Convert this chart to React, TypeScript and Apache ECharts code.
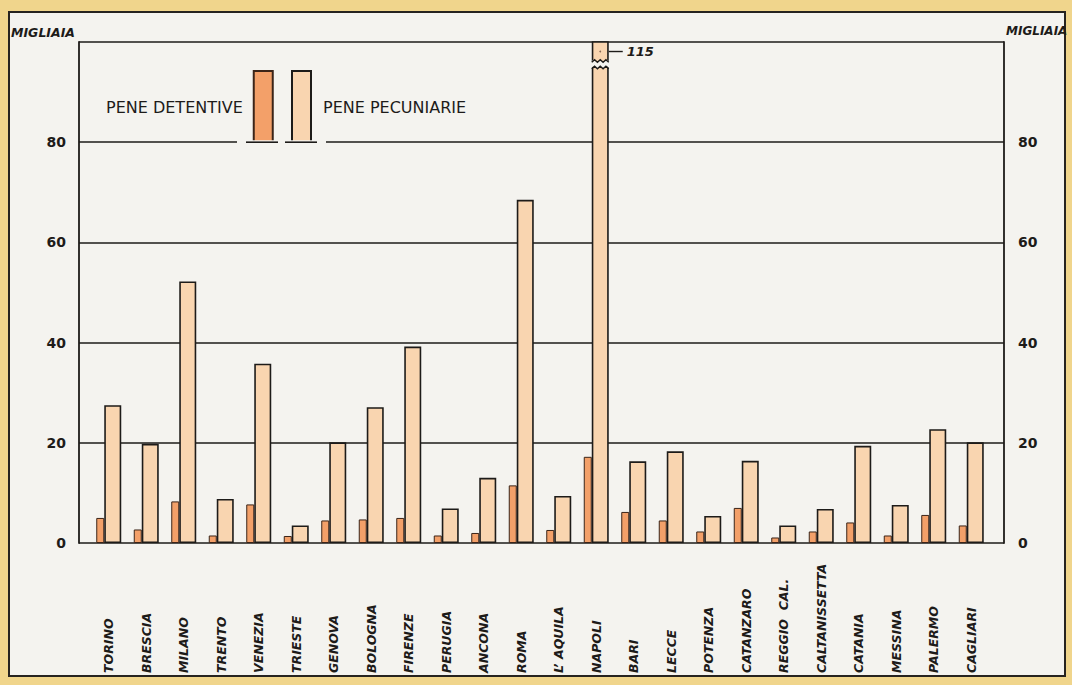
import React, { useEffect, useRef } from "react";
import * as echarts from "echarts";

const categories = [
  "TORINO", "BRESCIA", "MILANO", "TRENTO", "VENEZIA", "TRIESTE", "GENOVA", "BOLOGNA",
  "FIRENZE", "PERUGIA", "ANCONA", "ROMA", "L’ AQUILA", "NAPOLI", "BARI", "LECCE",
  "POTENZA", "CATANZARO", "REGGIO  CAL.", "CALTANISSETTA", "CATANIA", "MESSINA", "PALERMO", "CAGLIARI",
];
const peneDetentive = [5.0, 2.7, 8.3, 1.5, 7.7, 1.4, 4.5, 4.7, 5.0, 1.5, 2.0, 11.5, 2.6, 17.2, 6.2, 4.5, 2.3, 7.0, 1.1, 2.3, 4.1, 1.5, 5.6, 3.5];
const penePecuniarie = [27.5, 19.8, 52.2, 8.8, 35.8, 3.5, 20.1, 27.1, 39.2, 6.9, 13.0, 68.5, 9.4, 115, 16.3, 18.3, 5.4, 16.4, 3.5, 6.8, 19.4, 7.6, 22.7, 20.1];
const yTicks = [0, 20, 40, 60, 80, 100];
const seriesNames = ["PENE DETENTIVE", "PENE PECUNIARIE"];
const unitLabel = "MIGLIAIA";
const brokenCategory = "NAPOLI";

const INK = "#1d1b19";
const PAPER = "#f4f3ef";
const ORANGE = "#f3a069";
const PEACH = "#f9d5b0";
const FONT = "DejaVu Sans";

export default function App() {
  const ref = useRef<HTMLDivElement>(null);

  useEffect(() => {
    const chart = echarts.init(ref.current!, null, { renderer: "svg" });
    const yMax = yTicks[yTicks.length - 1];
    const yInterval = yTicks[1] - yTicks[0];

    const axisLabelStyle = {
      color: INK,
      fontFamily: FONT,
      fontWeight: "bold",
      fontSize: 14,
      formatter: (v: number) => (v === yMax ? "" : String(v)),
    };
    const nameStyle = {
      color: INK,
      fontFamily: FONT,
      fontWeight: "bold",
      fontStyle: "italic",
      fontSize: 12.5,
      verticalAlign: "bottom",
    };

    const option: any = {
      animation: false,
      backgroundColor: "transparent",
      textStyle: { fontFamily: FONT },
      grid: [
        { left: 79, right: 68, top: 42, bottom: 142, outerBoundsMode: "none", containLabel: false },
        { left: 90, right: 82, top: 42, bottom: 142, outerBoundsMode: "none", containLabel: false },
      ],
      legend: [
        {
          data: [seriesNames[0]],
          left: 106,
          top: 70,
          padding: 0,
          align: "right",
          icon: "rect",
          itemWidth: 19,
          itemHeight: 72,
          selectedMode: false,
          textStyle: { color: INK, fontFamily: FONT, fontSize: 16, padding: [0, 6, 0, 0] },
        },
        {
          data: [seriesNames[1]],
          left: 291,
          top: 70,
          padding: 0,
          align: "left",
          icon: "rect",
          itemWidth: 19,
          itemHeight: 72,
          selectedMode: false,
          textStyle: { color: INK, fontFamily: FONT, fontSize: 16, padding: [0, 0, 0, 7] },
        },
      ],
      xAxis: [
        { type: "category", gridIndex: 0, data: categories, show: false },
        {
          type: "category",
          gridIndex: 1,
          data: categories,
          axisLine: { show: false },
          axisTick: { show: false },
          splitLine: { show: false },
          axisLabel: {
            interval: 0,
            rotate: 90,
            align: "left",
            verticalAlign: "middle",
            margin: 130,
            color: INK,
            fontFamily: FONT,
            fontWeight: "bold",
            fontStyle: "italic",
            fontSize: 12.5,
          },
        },
      ],
      yAxis: [
        {
          type: "value",
          gridIndex: 0,
          position: "left",
          min: 0,
          max: yMax,
          interval: yInterval,
          name: unitLabel,
          nameLocation: "end",
          nameGap: 3,
          nameTextStyle: { ...nameStyle, align: "right", padding: [0, 4, 0, 0] },
          axisLine: { show: true, lineStyle: { color: INK, width: 1.8 } },
          axisTick: { show: false },
          splitLine: { show: true, lineStyle: { color: INK, width: 1.6 } },
          axisLabel: { ...axisLabelStyle, margin: 13 },
        },
        {
          type: "value",
          gridIndex: 0,
          position: "right",
          min: 0,
          max: yMax,
          interval: yInterval,
          name: unitLabel,
          nameLocation: "end",
          nameGap: 5,
          nameTextStyle: { ...nameStyle, fontSize: 12, align: "left", padding: [0, 0, 0, 2] },
          axisLine: { show: true, lineStyle: { color: INK, width: 1.8 } },
          axisTick: { show: false },
          splitLine: { show: false },
          axisLabel: { ...axisLabelStyle, margin: 14 },
        },
        { type: "value", gridIndex: 1, min: 0, max: yMax, interval: yInterval, show: false, splitLine: { show: false } },
      ],
      series: [
        {
          name: seriesNames[0],
          type: "bar",
          xAxisIndex: 1,
          yAxisIndex: 2,
          data: peneDetentive,
          barWidth: 8,
          barGap: "0%",
          clip: true,
          itemStyle: { color: ORANGE, borderColor: "#3b2418", borderWidth: 1 },
        },
        {
          name: seriesNames[1],
          type: "bar",
          xAxisIndex: 1,
          yAxisIndex: 2,
          data: penePecuniarie,
          barWidth: 17,
          barGap: "0%",
          clip: true,
          itemStyle: { color: PEACH, borderColor: INK, borderWidth: 1.6 },
        },
      ],
    };
    chart.setOption(option);

    // ---- overlays computed from the chart's own scales ----
    const graphics: any[] = [];
    const y80 = chart.convertToPixel({ yAxisIndex: 0 }, 80) as number;
    // gap in the 80 line around the legend, with small bases under the keys
    graphics.push({ type: "rect", z: 20, shape: { x: 237, y: y80 - 2, width: 89, height: 4 }, style: { fill: PAPER } });
    graphics.push({ type: "line", z: 21, shape: { x1: 246, y1: y80, x2: 278, y2: y80 }, style: { stroke: INK, lineWidth: 1.6 } });
    graphics.push({ type: "line", z: 21, shape: { x1: 285, y1: y80, x2: 317, y2: y80 }, style: { stroke: INK, lineWidth: 1.6 } });

    // broken bar for the value above the axis maximum
    const idx = categories.indexOf(brokenCategory);
    let bx0 = 0;
    let bx1 = 0;
    try {
      const lay = (chart as any).getModel().getSeriesByIndex(1).getData().getItemLayout(idx);
      bx0 = Math.min(lay.x, lay.x + lay.width);
      bx1 = Math.max(lay.x, lay.x + lay.width);
    } catch (e) {
      const cx = chart.convertToPixel({ xAxisIndex: 1 }, brokenCategory) as number;
      bx0 = cx - 4.5;
      bx1 = cx + 12.5;
    }
    const yBoxBottom = chart.convertToPixel({ yAxisIndex: 2 }, 96.2) as number;
    const yBarTop = chart.convertToPixel({ yAxisIndex: 2 }, 94.9) as number;
    const yBoxMid = chart.convertToPixel({ yAxisIndex: 2 }, 98.1) as number;
    const zig = (y: number, a: number, b: number) => {
      const pts: number[][] = [];
      const n = 6;
      for (let i = 0; i <= n; i++) {
        pts.push([a + ((b - a) * i) / n, y + (i % 2 === 0 ? 1.3 : -1.3)]);
      }
      return pts;
    };
    const topZ = zig(yBoxBottom, bx0 - 1.5, bx1 + 1.5);
    const botZ = zig(yBarTop, bx0 - 1.5, bx1 + 1.5);
    graphics.push({
      type: "polygon",
      z: 20,
      shape: { points: [...topZ, ...botZ.slice().reverse()] },
      style: { fill: PAPER },
    });
    graphics.push({ type: "polyline", z: 21, shape: { points: zig(yBoxBottom, bx0, bx1) }, style: { stroke: INK, lineWidth: 1.4, fill: null } });
    graphics.push({ type: "polyline", z: 21, shape: { points: zig(yBarTop, bx0, bx1) }, style: { stroke: INK, lineWidth: 1.4, fill: null } });
    graphics.push({ type: "circle", z: 21, shape: { cx: (bx0 + bx1) / 2, cy: yBoxMid, r: 0.9 }, style: { fill: "#8a6a55" } });
    graphics.push({ type: "line", z: 21, shape: { x1: bx1, y1: yBoxMid, x2: bx1 + 14, y2: yBoxMid }, style: { stroke: INK, lineWidth: 1.4 } });
    graphics.push({
      type: "text",
      z: 21,
      x: bx1 + 18,
      y: yBoxMid,
      style: {
        text: String(penePecuniarie[idx]),
        fill: INK,
        font: `italic bold 13px "${FONT}"`,
        verticalAlign: "middle",
        align: "left",
      },
    });

    chart.setOption({ graphic: graphics });

    return () => chart.dispose();
  }, []);

  return (
    <div style={{ position: "fixed", left: 0, top: 0, width: 1072, height: 685, background: "#f0d58c", overflow: "hidden" }}>
      <div
        style={{
          position: "absolute",
          left: 8,
          top: 11,
          width: 1058,
          height: 666,
          boxSizing: "border-box",
          border: "2px solid #262320",
          background: PAPER,
        }}
      />
      <div ref={ref} style={{ position: "absolute", left: 0, top: 0, width: 1072, height: 685 }} />
    </div>
  );
}
